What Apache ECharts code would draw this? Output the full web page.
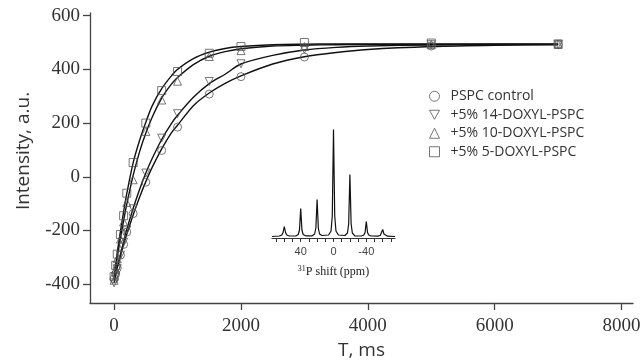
<!DOCTYPE html>
<html>
<head>
<meta charset="utf-8">
<script src="https://cdn.jsdelivr.net/npm/echarts@6/dist/echarts.min.js"></script>
<style>
  html, body { margin: 0; padding: 0; background: #fff; }
  #chart { width: 643px; height: 361px; }
</style>
</head>
<body>
<div id="chart"></div>
<script>
// delay times (ms) of the measured points
const times = [0, 25, 50, 100, 150, 200, 300, 500, 750, 1000, 1500, 2000, 3000, 5000, 7000]

const control = [-380, -362, -340, -292, -252, -206, -137, -20, 98, 185, 308, 373, 446, 487, 492]
const doxyl14 = [-395, -370, -342, -292, -244, -198, -119, 14, 144, 235, 355, 421, 475, 492, 493]
const doxyl10 = [-385, -345, -305, -232, -168, -96, -11, 169, 286, 356, 448, 470, 485, 492, 493]
const doxyl5 = [-372, -330, -288, -215, -145, -61, 53, 200, 321, 392, 460, 485, 500, 498, 495]

// fitted curves
const fitTimes = [0, 50, 100, 150, 200, 300, 400, 500, 600, 750, 900, 1000, 1250, 1500, 1750, 2000, 2500, 3000, 3500, 4000, 5000, 6000, 7000]
const controlFit = [-380, -335, -293, -252, -214, -142, -77, -18, 35, 104, 163, 192, 265, 312, 348, 376, 420, 447, 463, 474, 485, 490, 492]
const doxyl14Fit = [-395, -340, -289, -241, -196, -118, -48, 14, 68, 139, 197, 229, 296, 347, 382, 420, 452, 472, 482, 487, 491, 493, 493]
const doxyl10Fit = [-385, -300, -229, -163, -102, 5, 92, 163, 222, 293, 344, 370, 418, 449, 466, 477, 487, 490, 492, 493, 493, 493, 493]
const doxyl5Fit = [-375, -282, -203, -130, -62, 52, 134, 203, 264, 328, 375, 400, 440, 464, 478, 485, 492, 494, 495, 495, 495, 495, 495]

const seriesNames = ['PSPC control', '+5% 14-DOXYL-PSPC', '+5% 10-DOXYL-PSPC', '+5% 5-DOXYL-PSPC']

const xTicks = [0, 2000, 4000, 6000, 8000]
const yTicks = [-400, -200, 0, 200, 400, 600]

// inset: 31P spectrum, [ppm, intensity]
const spectrum = [
  [75, 1.5], [66, 2], [63, 3], [61.5, 5.5], [60, 11.5], [58.5, 5.5], [57, 3], [54, 2],
  [46, 2], [43, 3.5], [41.5, 8], [40, 29.5], [38.5, 8], [37, 3.5], [34, 2.2],
  [26, 2.2], [23, 4], [21.5, 10], [20, 38.5], [18.5, 10], [17, 4], [14, 2.5],
  [6, 3], [3, 7], [1.5, 22], [0, 108.5], [-1.5, 22], [-3, 7], [-6, 3],
  [-14, 2.5], [-17, 5], [-18.5, 14], [-20, 63.5], [-21.5, 14], [-23, 5], [-26, 2.2],
  [-34, 2], [-37, 3], [-38.5, 5.5], [-40, 16.5], [-41.5, 5.5], [-43, 3], [-46, 2],
  [-54, 1.8], [-57, 2.5], [-58.5, 4], [-60, 8.5], [-61.5, 4], [-63, 2.5], [-66, 1.8], [-75, 1.5],
]
const insetTicks = [70, 60, 50, 40, 30, 20, 10, 0, -10, -20, -30, -40, -50, -60, -70]
const insetLabels = [40, 0, -40]

const triDown = 'path://M0,0L10,0L5,9Z'
const symbols = ['circle', triDown, 'triangle', 'rect']
const values = [control, doxyl14, doxyl10, doxyl5]
const fits = [controlFit, doxyl14Fit, doxyl10Fit, doxyl5Fit]

const hollow = { color: 'rgba(0,0,0,0)', borderColor: '#555', borderWidth: 1 }
const plain = (v) => String(v)

const chart = echarts.init(document.getElementById('chart'), null, { renderer: 'canvas' })

const pointSeries = values.map((vals, i) => ({
  name: seriesNames[i],
  type: 'scatter',
  xAxisIndex: 0,
  yAxisIndex: 0,
  data: vals.map((v, j) => [times[j], v]),
  symbol: symbols[i],
  symbolSize: 8,
  itemStyle: hollow,
  z: 4,
}))

const fitSeries = fits.map((vals, i) => ({
  name: seriesNames[i] + ' fit',
  type: 'line',
  xAxisIndex: 0,
  yAxisIndex: 0,
  data: vals.map((v, j) => [fitTimes[j], v]),
  showSymbol: false,
  smooth: 0.3,
  lineStyle: { color: '#111', width: 1.4 },
  z: 3,
}))

chart.setOption({
  animation: false,
  backgroundColor: '#fff',
  grid: [
    { left: 90, right: 10, top: 13, bottom: 58, outerBoundsMode: 'none', containLabel: false },
    { left: 272, width: 123, top: 128, bottom: 123, outerBoundsMode: 'none', containLabel: false },
  ],
  xAxis: [
    {
      type: 'value',
      gridIndex: 0,
      min: -380,
      max: 8180,
      name: 'T, ms',
      nameLocation: 'middle',
      nameGap: 31,
      nameTextStyle: { fontFamily: 'Open Sans', fontSize: 19, color: '#333' },
      axisLine: { onZero: false, lineStyle: { color: '#444', width: 1.3 } },
      axisTick: { customValues: xTicks, length: 7, lineStyle: { color: '#444', width: 1.3 } },
      axisLabel: {
        customValues: xTicks,
        formatter: plain,
        margin: 14,
        fontFamily: 'Liberation Serif',
        fontSize: 19,
        color: '#333',
      },
      splitLine: { show: false },
    },
    {
      type: 'value',
      gridIndex: 1,
      min: -75,
      max: 75,
      inverse: true,
      name: '{sup|31}P shift (ppm)',
      nameLocation: 'middle',
      nameGap: 27,
      nameTextStyle: {
        fontFamily: 'Liberation Serif',
        fontSize: 12,
        color: '#222',
        rich: { sup: { fontFamily: 'Liberation Serif', fontSize: 8, color: '#222', verticalAlign: 'top', padding: [0, 0, 5, 0] } },
      },
      axisLine: { onZero: false, lineStyle: { color: '#333', width: 1.2 } },
      axisTick: { customValues: insetTicks, length: 4, lineStyle: { color: '#333', width: 1 } },
      axisLabel: {
        customValues: insetLabels,
        formatter: plain,
        margin: 8,
        fontFamily: 'Liberation Sans',
        fontSize: 11,
        color: '#444',
      },
      splitLine: { show: false },
    },
  ],
  yAxis: [
    {
      type: 'value',
      gridIndex: 0,
      min: -470,
      max: 610,
      axisLine: { show: true, onZero: false, lineStyle: { color: '#444', width: 1.3 } },
      axisTick: { show: true, customValues: yTicks, length: 7, lineStyle: { color: '#444', width: 1.3 } },
      axisLabel: {
        customValues: yTicks,
        formatter: plain,
        margin: 10,
        fontFamily: 'Liberation Serif',
        fontSize: 19,
        color: '#333',
      },
      splitLine: { show: false },
    },
    {
      type: 'value',
      gridIndex: 1,
      min: 0,
      max: 110,
      show: false,
    },
  ],
  legend: {
    orient: 'vertical',
    left: 424,
    top: 84,
    itemWidth: 10,
    itemHeight: 10,
    itemGap: 4,
    data: seriesNames.map((n, i) => ({ name: n, icon: symbols[i] })),
    itemStyle: hollow,
    textStyle: { fontFamily: 'Open Sans', fontSize: 14, color: '#333', lineHeight: 14.5, padding: [0, 0, 0, 6] },
  },
  graphic: [
    {
      type: 'text',
      x: 24,
      y: 151,
      rotation: Math.PI / 2,
      style: {
        text: 'Intensity, a.u.',
        fontFamily: 'Open Sans',
        fontSize: 19,
        fill: '#333',
        align: 'center',
        verticalAlign: 'middle',
      },
    },
  ],
  series: [
    ...fitSeries,
    ...pointSeries,
    {
      name: 'spectrum',
      type: 'line',
      xAxisIndex: 1,
      yAxisIndex: 1,
      data: spectrum,
      showSymbol: false,
      lineStyle: { color: '#111', width: 1.2 },
      z: 2,
    },
  ],
})
</script>
</body>
</html>
